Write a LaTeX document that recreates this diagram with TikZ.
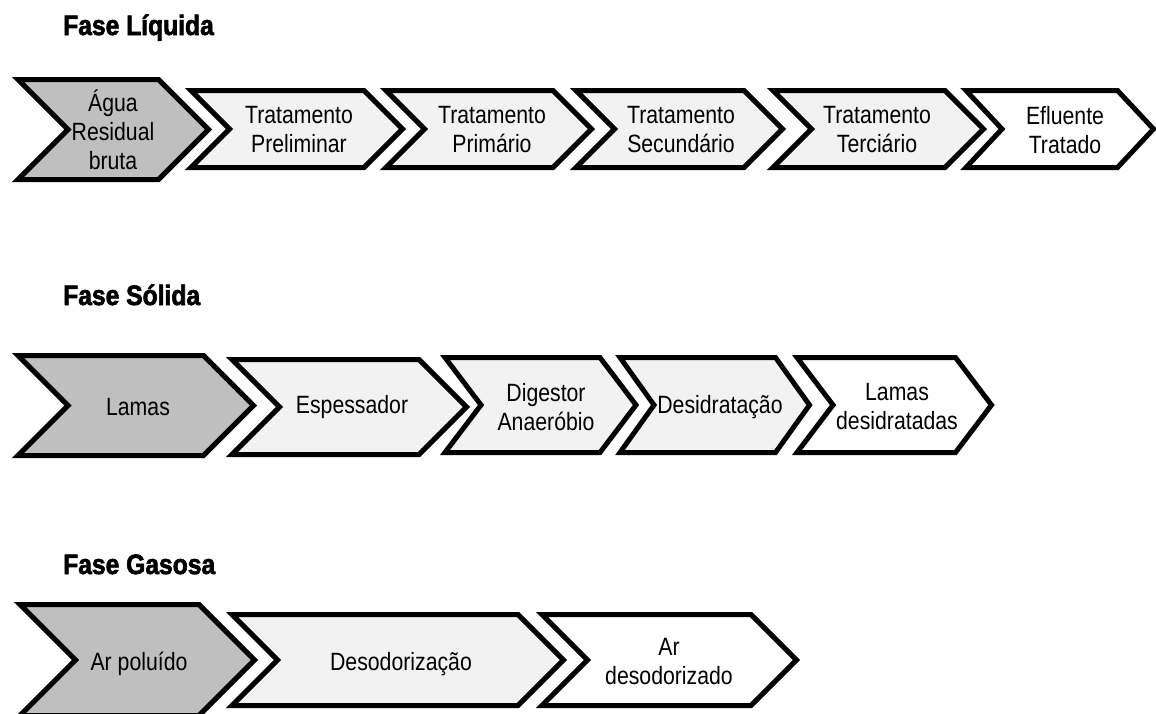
\documentclass[tikz,border=0pt]{standalone}
\usepackage{fontspec}
\newfontfamily\bodyfont{Liberation Sans}[FakeStretch=0.85]
\newfontfamily\headfont{Liberation Sans Bold}[FakeStretch=0.88,FakeBold=2.2]
\definecolor{firstgray}{HTML}{BFBFBF}
\definecolor{midgray}{HTML}{F2F2F2}
% chevron: style, left x, tip x, top y, bottom y, point depth
\newcommand\chevron[6]{%
  \draw[#1] (#2,#4) -- ({#3-#6},#4) -- (#3,{(#4+#5)/2}) -- ({#3-#6},#5)
    -- (#2,#5) -- ({#2+#6},{(#4+#5)/2}) -- cycle;}
\tikzset{
  chev/.style={draw=black, line width=5pt, line join=miter},
  chevA/.style={chev, fill=firstgray},
  chevB/.style={chev, fill=midgray},
  chevC/.style={chev, fill=white},
  lbl/.style={font=\bodyfont\fontsize{25}{29}\selectfont, align=center, inner sep=0pt, text=black},
  head/.style={font=\headfont\fontsize{28}{32}\selectfont, anchor=base west, inner sep=0pt}
}
\begin{document}
\begin{tikzpicture}[x=1pt, y=-1pt]
\useasboundingbox (0,0) rectangle (1156,713);
\clip (0,0) rectangle (1156,713);

% ---- liquid phase ----
\node[head] (hliq) at (63,35) {Fase Líquida};
\chevron{chevA}{18}{208.5}{79.5}{179.5}{50}
\chevron{chevB}{191}{402.5}{90.5}{167.5}{38.5}
\chevron{chevB}{386}{591.5}{90.5}{167.5}{38.5}
\chevron{chevB}{576}{782.5}{90.5}{167.5}{38.5}
\chevron{chevB}{773}{983.5}{90.5}{167.5}{38.5}
\chevron{chevC}{966}{1153.5}{90.5}{167.5}{36}
\node[lbl] (l1) at (113,130) {Água\\Residual\\bruta};
\node[lbl] (l2) at (299,130) {Tratamento\\Preliminar};
\node[lbl] (l3) at (492,130) {Tratamento\\Primário};
\node[lbl] (l4) at (681,130) {Tratamento\\Secundário};
\node[lbl] (l5) at (877,130) {Tratamento\\Terciário};
\node[lbl] (l6) at (1065,130) {Efluente\\Tratado};

% ---- solid phase ----
\node[head] (hsol) at (63,305) {Fase Sólida};
\chevron{chevA}{18}{253.5}{355.5}{455.5}{50}
\chevron{chevB}{232}{466.5}{359.5}{454.5}{47.5}
\chevron{chevB}{445}{636}{357.5}{452.5}{36}
\chevron{chevB}{620}{809.5}{357.5}{452.5}{34}
\chevron{chevC}{797}{991.5}{357.5}{452.5}{36}
\node[lbl] (s1) at (138,407) {Lamas};
\node[lbl] (s2) at (352,407) {Espessador};
\node[lbl] (s3) at (546,407) {Digestor\\Anaeróbio};
\node[lbl] (s4) at (720,407) {Desidratação};
\node[lbl] (s5) at (897,407) {Lamas\\desidratadas};

% ---- gas phase ----
\node[head] (hgas) at (63,574) {Fase Gasosa};
\chevron{chevA}{20}{254.5}{604.5}{715.5}{55.5}
\chevron{chevB}{232}{563.5}{614.5}{705.5}{45.5}
\chevron{chevC}{542}{796.5}{614.5}{705.5}{45.5}
\node[lbl] (g1) at (139,664) {Ar poluído};
\node[lbl] (g2) at (401,664) {Desodorização};
\node[lbl] (g3) at (669,662) {Ar\\desodorizado};
\end{tikzpicture}
\end{document}
